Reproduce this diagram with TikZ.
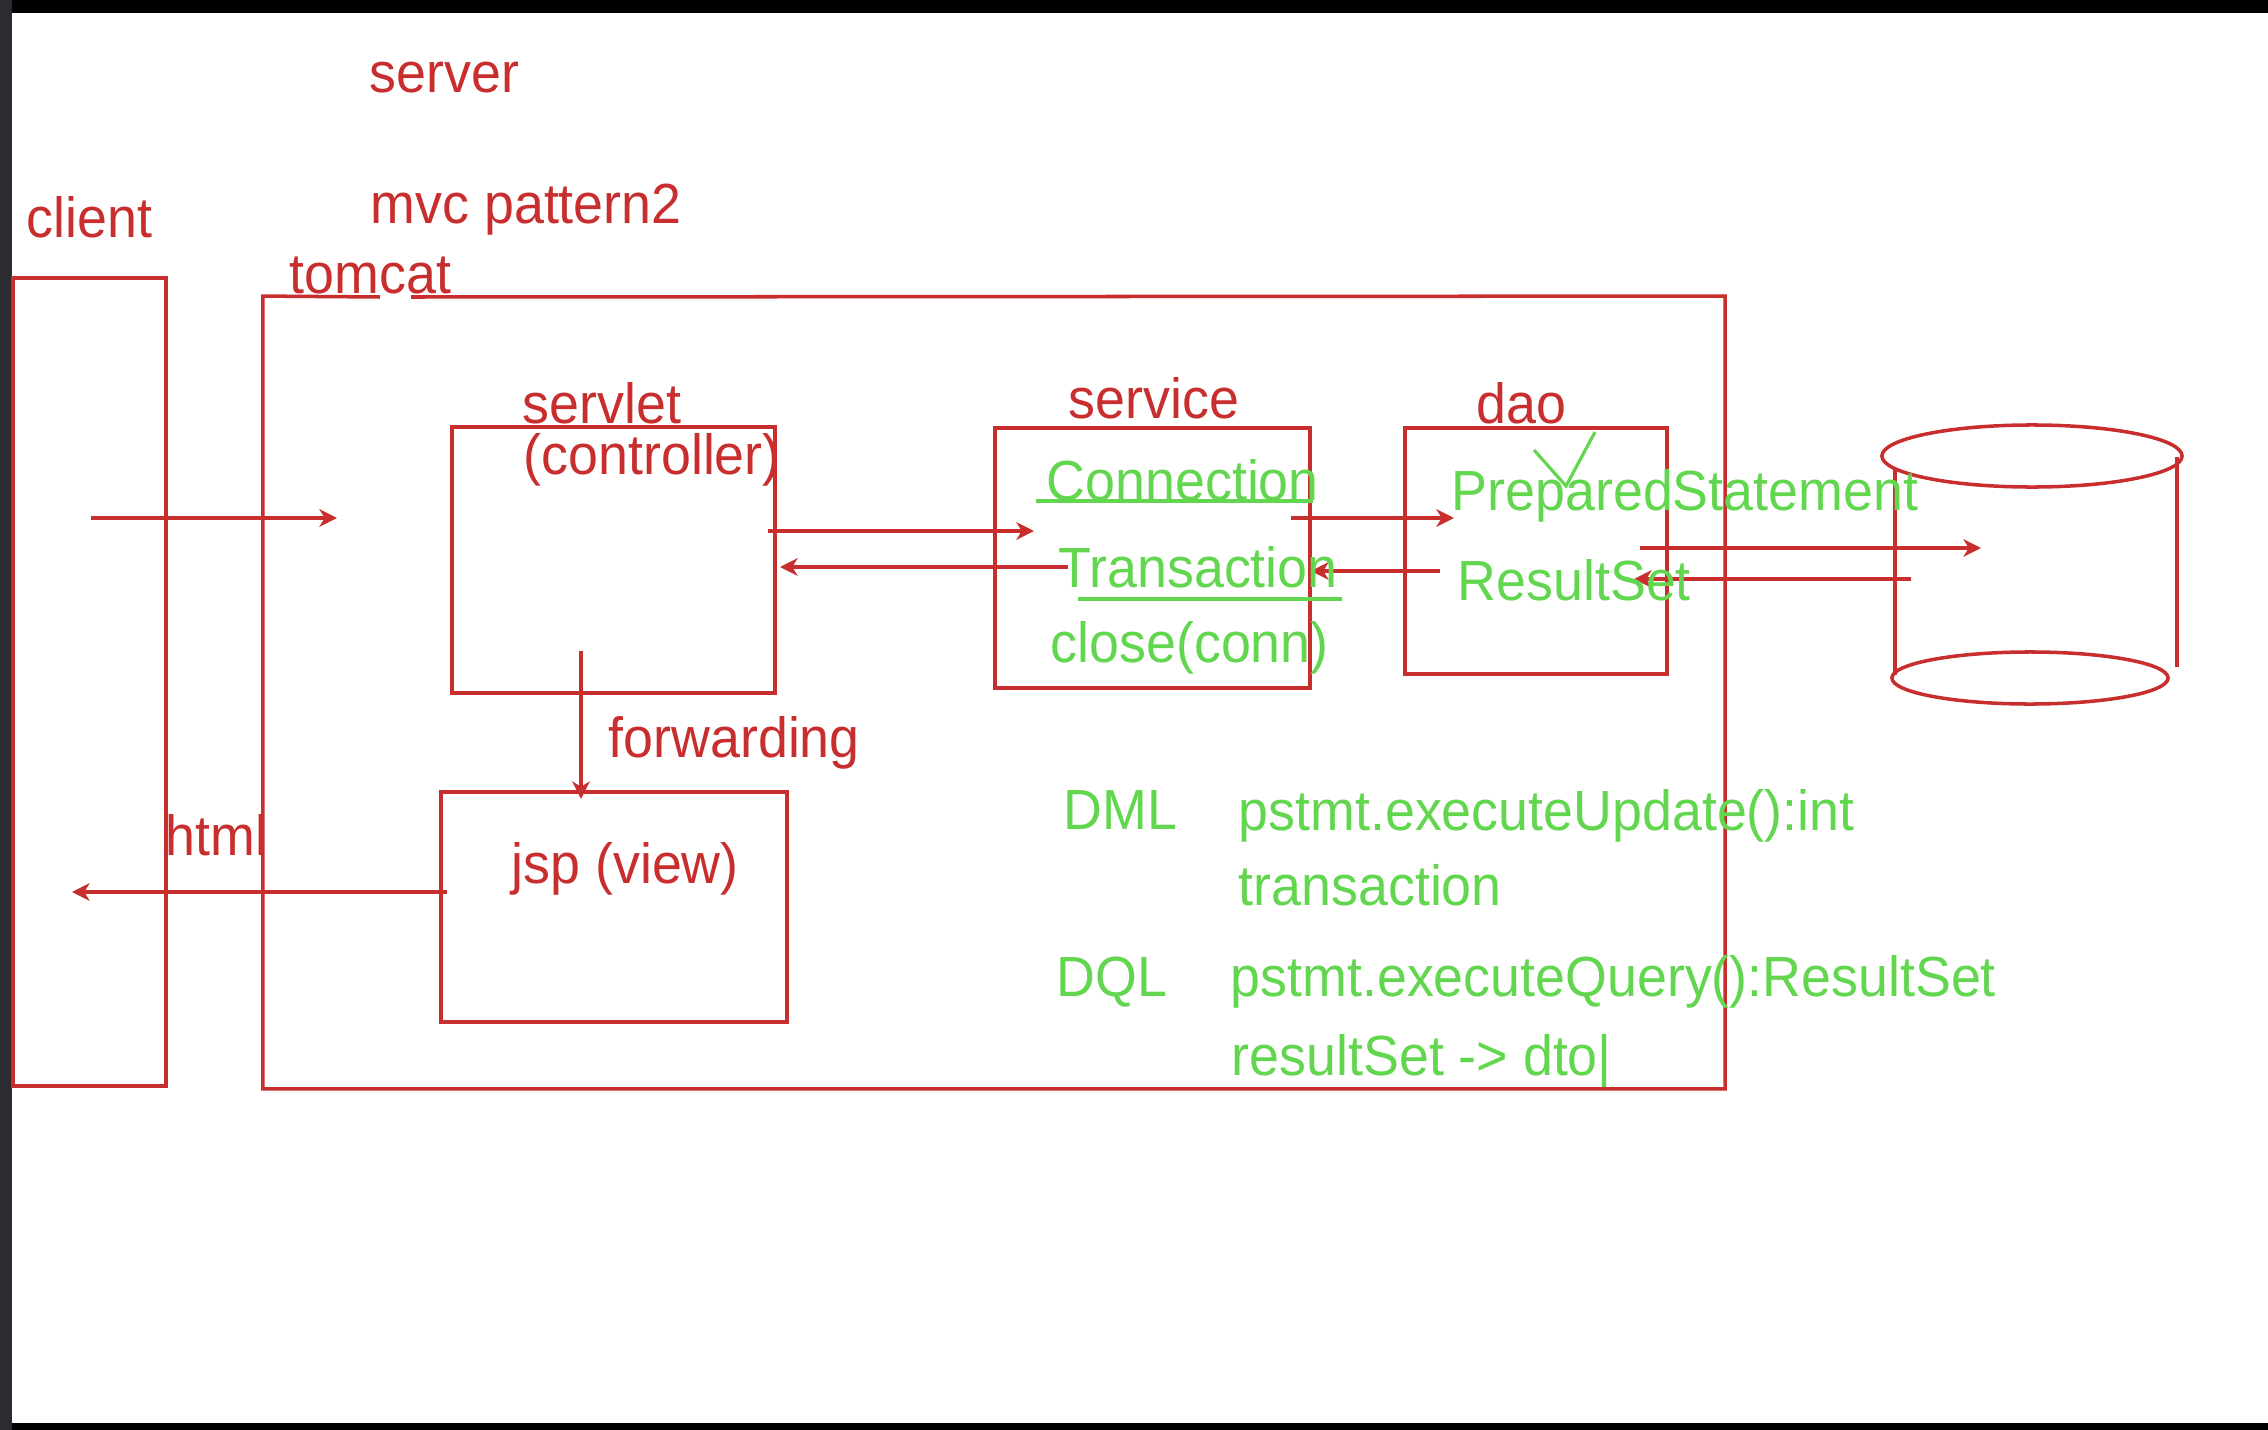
\documentclass[tikz,border=0pt]{standalone}
\usepackage{fontspec}
\setmainfont[FakeStretch=0.95]{Liberation Sans}
\usetikzlibrary{arrows.meta}
\definecolor{pen}{RGB}{200,46,46}
\definecolor{marker}{RGB}{98,214,78}
\definecolor{sidebar}{RGB}{43,44,48}
\begin{document}
\begin{tikzpicture}[x=0.01cm,y=-0.01cm,
  redline/.style={draw=pen,line width=1pt},
  box/.style={redline,rectangle,inner sep=0pt},
  frame/.style={rectangle,inner sep=0pt},
  flow/.style={pen,line width=1pt,-{Stealth[length=5pt,width=5pt,inset=1.5pt]}},
  redtxt/.style={anchor=base west,inner sep=0pt,text=pen,font=\fontsize{16.1}{19}\selectfont},
  greentxt/.style={anchor=base west,inner sep=0pt,text=marker,font=\fontsize{16.1}{19}\selectfont},
  greenline/.style={draw=marker,line width=0.9pt}]
\useasboundingbox (0,0) rectangle (2268,1430);
% window frame
\fill[black] (0,0) rectangle (2268,1430);
\fill[white] (12,13) rectangle (2268,1423);
\fill[sidebar] (0,0) rectangle (12,1430);

% headings
\node[redtxt] (server) at (369,93) {server};
\node[redtxt] (mvc) at (370,223) {mvc pattern2};
\node[redtxt] (clientlbl) at (26,237) {client};
\node[redtxt] (tomcatlbl) at (289,293) {tomcat};

% client and tomcat
\node[box,minimum width=1.53cm,minimum height=8.08cm] (client) at (89.5,682) {};
\node[frame,minimum width=14.60cm,minimum height=7.91cm] (tomcat) at (994,692.5) {};
\coordinate (gapL) at (380,297);
\coordinate (gapR) at (411,297);
\draw[redline] (gapR) -- (tomcat.north east) -- (tomcat.south east)
  -- (tomcat.south west) -- (tomcat.north west) -- (gapL);

% components
\node[box,minimum width=3.23cm,minimum height=2.66cm] (servlet) at (613.5,560) {};
\node[box,minimum width=3.46cm,minimum height=2.30cm] (jsp) at (614,907) {};
\node[box,minimum width=3.15cm,minimum height=2.60cm] (service) at (1152.5,558) {};
\node[box,minimum width=2.62cm,minimum height=2.46cm] (dao) at (1536,551) {};

\node[redtxt] (servletlbl) at (522,423) {servlet};
\node[redtxt] (ctrllbl) at (523,474) {(controller)};
\node[redtxt] (servicelbl) at (1068,418) {service};
\node[redtxt] (daolbl) at (1476,423) {dao};
\node[redtxt] (fwdlbl) at (608,757) {forwarding};
\node[redtxt] (jsplbl) at (511,883) {jsp (view)};
\node[redtxt] (htmllbl) at (165,855) {html};

% database
\coordinate (db) at (2032,560);
\draw[redline] (2032,456) ellipse [x radius=1.50cm,y radius=0.31cm];
\draw[redline] (2030,678) ellipse [x radius=1.38cm,y radius=0.26cm];
\draw[redline] (1895,468) -- (1895,675);
\draw[redline] (2177,457) -- (2177,667);

% connector end points
\coordinate (reqA) at (91,518);   \coordinate (reqB) at (337,518);
\coordinate (s2sA) at (768,531);  \coordinate (s2sB) at (1034,531);
\coordinate (s2cA) at (1068,567); \coordinate (s2cB) at (780,567);
\coordinate (fwdA) at (581,651);  \coordinate (fwdB) at (581,799);
\coordinate (resA) at (447,892);  \coordinate (resB) at (72,892);
\coordinate (sv2dA) at (1291,518); \coordinate (sv2dB) at (1454,518);
\coordinate (d2svA) at (1440,571); \coordinate (d2svB) at (1311,571);
\coordinate (d2dbA) at (1640,548); \coordinate (d2dbB) at (1981,548);
\coordinate (db2dA) at (1911,579); \coordinate (db2dB) at (1634,579);

\draw[flow] (reqA) -- (reqB);
\draw[flow] (s2sA) -- (s2sB);
\draw[flow] (s2cA) -- (s2cB);
\draw[flow] (fwdA) -- (fwdB);
\draw[flow] (resA) -- (resB);
\draw[flow] (sv2dA) -- (sv2dB);
\draw[flow] (d2svA) -- (d2svB);
\draw[flow] (d2dbA) -- (d2dbB);
\draw[flow] (db2dA) -- (db2dB);

% notes inside service and dao
\node[greentxt] (conn) at (1046,500) {Connection};
\node[greentxt] (tx) at (1058,587) {Transaction};
\node[greentxt] (close) at (1050,662) {close(conn)};
\node[greentxt] (pstmt) at (1451,510) {PreparedStatement};
\node[greentxt] (rs) at (1457,600) {ResultSet};
\draw[greenline,line width=1pt] (1036,501) -- (1313,501);
\draw[greenline,line width=1pt] (1078,599) -- (1342,599);
\draw[greenline] (1534,450) -- (1566,486) -- (1595,432);

% query notes
\node[greentxt] (dml) at (1063,829) {DML};
\node[greentxt] (upd) at (1238,830) {pstmt.executeUpdate():int};
\node[greentxt] (txn) at (1238,905) {transaction};
\node[greentxt] (dql) at (1056,996) {DQL};
\node[greentxt] (qry) at (1230,996) {pstmt.executeQuery():ResultSet};
\node[greentxt] (dto) at (1231,1075) {resultSet -> dto|};
\end{tikzpicture}
\end{document}
